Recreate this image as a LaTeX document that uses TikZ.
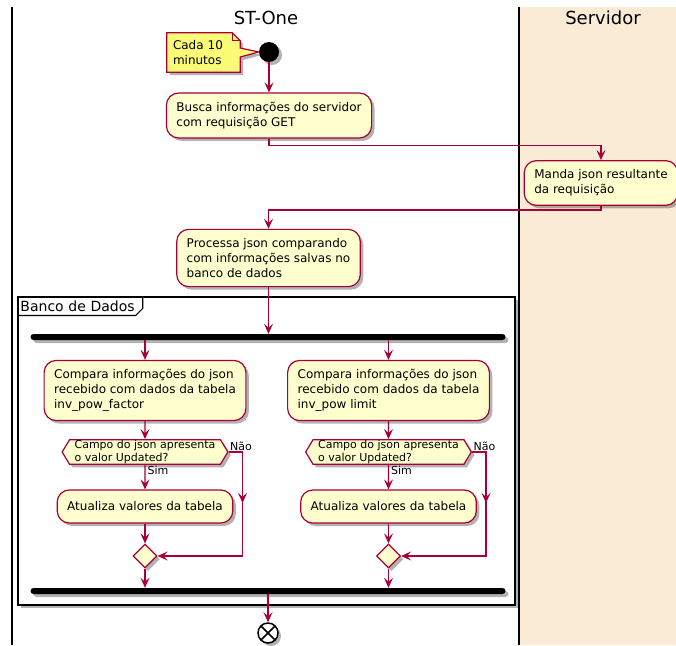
\documentclass[tikz,border=0pt]{standalone}
\usepackage{fontspec}
\setmainfont{DejaVu Sans}
\usetikzlibrary{arrows.meta,shapes.geometric,shapes.symbols,shadows,decorations.markings,backgrounds}

\definecolor{umlred}{HTML}{A80036}
\definecolor{umlfill}{HTML}{FEFECE}
\definecolor{notefill}{HTML}{FBFB77}
\definecolor{lanebg}{HTML}{FAEBD7}

\newcommand{\actfont}{\fontsize{12}{15}\selectfont}
\newcommand{\guardfont}{\fontsize{11}{13}\selectfont}
\newcommand{\lanefont}{\fontsize{18}{22}\selectfont}
\newcommand{\tabfont}{\fontsize{14}{17}\selectfont}

\begin{document}
\begin{tikzpicture}[x=1pt, y=-1pt,
		>={Stealth[length=10pt, width=9pt, inset=4pt]},
		umlshadow/.style={drop shadow={shadow xshift=3pt, shadow yshift=-3pt, opacity=0.3, fill=black}},
		action/.style={draw=umlred, fill=umlfill, line width=1.2pt, rounded corners=12pt,
				align=left, inner xsep=10pt, inner ysep=9pt, font=\actfont, umlshadow},
		decision/.style={signal, signal to=west and east, signal pointer angle=118,
				draw=umlred, fill=umlfill, line width=1.2pt, align=left,
				inner xsep=5pt, inner ysep=0.5pt, font=\guardfont, umlshadow},
		merge/.style={diamond, draw=umlred, fill=umlfill, line width=1.2pt,
				minimum size=24pt, inner sep=0pt, umlshadow},
		bar/.style={fill=black, rounded corners=3pt, minimum width=475pt,
				minimum height=6pt, inner sep=0pt, umlshadow},
		startnode/.style={circle, fill=black, minimum size=20pt, inner sep=0pt, umlshadow},
		stopnode/.style={circle, draw=black, fill=white, line width=1.5pt, minimum size=20pt,
				inner sep=0pt, umlshadow,
				path picture={\draw[line width=1.5pt]
						(path picture bounding box.north west) -- (path picture bounding box.south east)
						(path picture bounding box.north east) -- (path picture bounding box.south west);}},
		notebox/.style={text width=61pt, inner xsep=6pt, minimum height=39pt,
				align=left, font=\actfont},
		partition/.style={draw=black, fill=white, line width=1.5pt, minimum width=497pt,
				minimum height=308pt, inner sep=0pt, umlshadow},
		lanetitle/.style={font=\lanefont},
		guard/.style={font=\guardfont, text=black, inner sep=1pt},
		flow/.style={umlred, line width=1.2pt, ->},
		midarrow/.style={postaction={decorate},
				decoration={markings, mark=at position #1 with {\arrow{>}}}}
	]

	\useasboundingbox (0,0) rectangle (676,645);

	% swimlanes
	\fill[lanebg] (520,7) rectangle (676,645);
	\draw[line width=1.5pt] (12,7) -- (12,645);
	\draw[line width=1.5pt] (519,7) -- (519,645);
	\node[lanetitle] (stone) at (266,18) {ST-One};
	\node[lanetitle] (servidor) at (603,18) {Servidor};

	% partition
	\node[partition] (banco) at (266.5,451) {};
	\node[font=\tabfont, text width=119pt, inner xsep=3pt, inner ysep=4pt,
		anchor=north west, align=left] (bancotab) at (banco.north west) {Banco de Dados};
	\draw[line width=1.2pt] (bancotab.south west) -- ([xshift=-7pt]bancotab.south east)
	-- ([yshift=7pt]bancotab.south east) -- (bancotab.north east);

	% nodes
	\node[startnode] (start) at (269,52) {};
	\node[notebox] (note) at (203.5,52.5) {Cada 10\\minutos};
	\node[action] (busca) at (269,115.5) {Busca informações do servidor\\com requisição GET};
	\node[action] (manda) at (601,183) {Manda json resultante\\da requisição};
	\node[action] (processa) at (268.5,258) {Processa json comparando\\com informações salvas no\\banco de dados};

	\node[bar] (fork) at (268,337) {};

	\node[action] (comparaA) at (145,390.5) {Compara informações do json\\recebido com dados da tabela\\inv\_pow\_factor};
	\node[decision] (decA) at (145,452) {Campo do json apresenta\\o valor Updated?};
	\node[action, minimum height=33pt] (atualA) at (145,506.5) {Atualiza valores da tabela};
	\node[merge] (mergeA) at (145,556) {};

	\node[action] (comparaB) at (388.5,390.5) {Compara informações do json\\recebido com dados da tabela\\inv\_pow limit};
	\node[decision] (decB) at (388.5,452) {Campo do json apresenta\\o valor Updated?};
	\node[action, minimum height=33pt] (atualB) at (388.5,506.5) {Atualiza valores da tabela};
	\node[merge] (mergeB) at (388.5,556) {};

	\node[bar] (join) at (268,591) {};
	\node[stopnode] (stop) at (268,633) {};

	% note outline behind its text
	\begin{pgfonlayer}{background}
		\draw[umlred, fill=notefill, line width=1.2pt, umlshadow] (note.north west)
		-- ([xshift=-8pt]note.north east) -- ([yshift=-8pt]note.north east)
		-- (note.east |- 0,48) -- (start.west) -- (note.east |- 0,57)
		-- (note.south east) -- (note.south west) -- cycle;
		\draw[umlred, line width=1.2pt] ([xshift=-8pt]note.north east) -- ++(0,8) -- ++(8,0);
	\end{pgfonlayer}

	% connectors
	\draw[flow] (start) -- (busca);
	\draw[flow] (busca.south) -- ++(0,7) -| (manda.north);
	\draw[flow] (manda.south) -- ++(0,4) -| (processa.north);
	\draw[flow] (processa) -- (processa |- fork.north);

	\draw[flow] (comparaA |- fork.south) -- (comparaA);
	\draw[flow] (comparaA) -- (decA);
	\draw[flow] (decA) -- node[guard, anchor=north west, pos=0, xshift=1pt] {Sim} (atualA);
	\draw[flow, midarrow=0.32] (decA.east) -- node[guard, anchor=south west, pos=0] {Não}
	++(14,0) |- (mergeA.east);
	\draw[flow] (atualA) -- (mergeA);
	\draw[flow] (mergeA) -- (mergeA |- join.north);

	\draw[flow] (comparaB |- fork.south) -- (comparaB);
	\draw[flow] (comparaB) -- (decB);
	\draw[flow] (decB) -- node[guard, anchor=north west, pos=0, xshift=1pt] {Sim} (atualB);
	\draw[flow, midarrow=0.32] (decB.east) -- node[guard, anchor=south west, pos=0] {Não}
	++(14,0) |- (mergeB.east);
	\draw[flow] (atualB) -- (mergeB);
	\draw[flow] (mergeB) -- (mergeB |- join.north);

	\draw[flow] (join) -- (stop);
\end{tikzpicture}
\end{document}
